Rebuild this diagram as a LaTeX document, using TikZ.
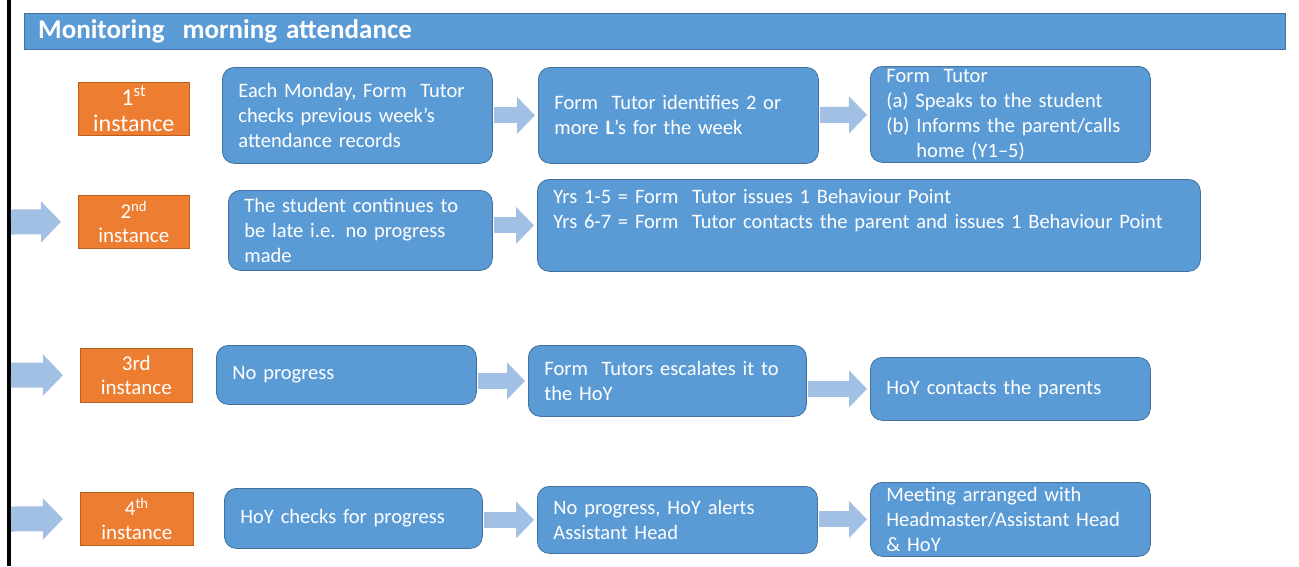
\documentclass[tikz,border=0pt]{standalone}
\usepackage{fontspec}
\setmainfont{Carlito}
\usetikzlibrary{arrows.meta,calc}

\definecolor{boxblue}{HTML}{5B9BD5}
\definecolor{boxline}{HTML}{41719C}
\definecolor{instorange}{HTML}{ED7D31}
\definecolor{instline}{HTML}{B9601F}
\definecolor{arrowblue}{HTML}{A2C0E4}

\tikzset{
  stepbox/.style={draw=boxline, line width=0.8pt, fill=boxblue, rounded corners=12pt,
    text=white, align=left, anchor=north west, inner xsep=16pt, inner ysep=0pt,
    font=\fontsize{20.5}{25}\selectfont},
  instbox/.style={draw=instline, line width=0.6pt, fill=instorange, text=white,
    align=center, anchor=north west, inner sep=0pt,
    font=\fontsize{21}{24}\selectfont},
  flowarrow/.style={arrowblue, line width=16pt,
    -{Triangle[length=18pt,width=36pt]}, shorten <=1pt, shorten >=3pt},
  sidearrow/.style={arrowblue, line width=25pt,
    -{Triangle[length=20pt,width=40pt]}, shorten >=17pt}
}

\begin{document}
\begin{tikzpicture}[x=1pt,y=-1pt]
  \useasboundingbox (0,0) rectangle (1299,566);
  \fill[white] (0,0) rectangle (1299,566);

  % left rule
  \fill[black] (7,0) rectangle (11,566);

  % title bar
  \node[draw=boxline, fill=boxblue, anchor=north west, minimum width=1261pt, minimum height=36pt,
    inner xsep=14pt, text=white, font=\fontsize{27}{30}\selectfont\bfseries, align=left,
    text width=1233pt] (title) at (24,13) {Monitoring\ \ morning attendance};

  % 1st instance
  \node[instbox, minimum width=111pt, minimum height=53pt, font=\fontsize{24}{26}\selectfont]
    (inst1) at (78,82) {1\textsuperscript{st}\\instance};
  \node[stepbox, text width=238pt, minimum height=96pt] (mon) at (222,67)
    {Each Monday, Form\ \ Tutor\\checks previous week's\\attendance records};
  \node[stepbox, text width=248pt, minimum height=96pt] (ident) at (538,67)
    {Form\ \ Tutor identifies 2 or\\more \textbf{L}'s for the week};
  \node[stepbox, text width=248pt, minimum height=96pt] (speak) at (870,66)
    {Form\ \ Tutor\\
     (a)\ Speaks to the student\\
     (b)\ Informs\ the parent/calls\\
     \phantom{(b)\ }home (Y1--5)};

  % 2nd instance
  \node[instbox, minimum width=111pt, minimum height=53pt] (inst2) at (78,195)
    {2\textsuperscript{nd}\\instance};
  \node[stepbox, text width=232pt, minimum height=80pt] (late) at (228,190)
    {The student continues to\\be late i.e. no progress\\made};
  \node[stepbox, text width=631pt, minimum height=92pt] (point) at (537,179)
    {Yrs 1-5 = Form\ \ Tutor issues 1 Behaviour Point\\
     Yrs 6-7 = Form\ \ Tutor contacts the parent\ and issues 1 Behaviour Point\\ \strut};

  % 3rd instance
  \node[instbox, minimum width=112pt, minimum height=54pt] (inst3) at (80,348)
    {3rd\\instance};
  \node[stepbox, text width=228pt, minimum height=59pt] (noprog) at (216,345)
    {No progress};
  \node[stepbox, text width=246pt, minimum height=71pt] (escal) at (528,345)
    {Form\ \ Tutors escalates it to\\the HoY};
  \node[stepbox, text width=248pt, minimum height=63pt] (parents) at (870,357)
    {HoY contacts the\ parents};

  % 4th instance
  \node[instbox, minimum width=113pt, minimum height=53pt] (inst4) at (80,492)
    {4\textsuperscript{th}\\instance};
  \node[stepbox, text width=226pt, minimum height=60pt] (check) at (224,488)
    {HoY checks for progress};
  \node[stepbox, text width=248pt, minimum height=67pt] (alert) at (537,486)
    {No progress, HoY alerts\\Assistant Head};
  \node[stepbox, text width=248pt, minimum height=74pt] (meet) at (870,482)
    {Meeting arranged with\\Headmaster/Assistant Head\\\& HoY};

  % free ends of the side arrows
  \coordinate (in2) at (11,222);
  \coordinate (in3) at (11,375);
  \coordinate (in4) at (11,519);

  % arrows
  \draw[flowarrow] (mon) -- (ident);
  \draw[flowarrow] (ident) -- (speak);
  \draw[flowarrow] (late.east |- point.west) -- (point.west);
  \draw[flowarrow] (noprog.east |- escal.west) -- (escal.west);
  \draw[flowarrow] (escal.east |- parents.west) -- (parents.west);
  \draw[flowarrow] (check.east |- alert.west) -- (alert.west);
  \draw[flowarrow] (alert.east |- meet.west) -- (meet.west);
  \draw[sidearrow] (in2) -- (inst2.west);
  \draw[sidearrow] (in3) -- (inst3.west);
  \draw[sidearrow] (in4) -- (inst4.west);
\end{tikzpicture}
\end{document}
